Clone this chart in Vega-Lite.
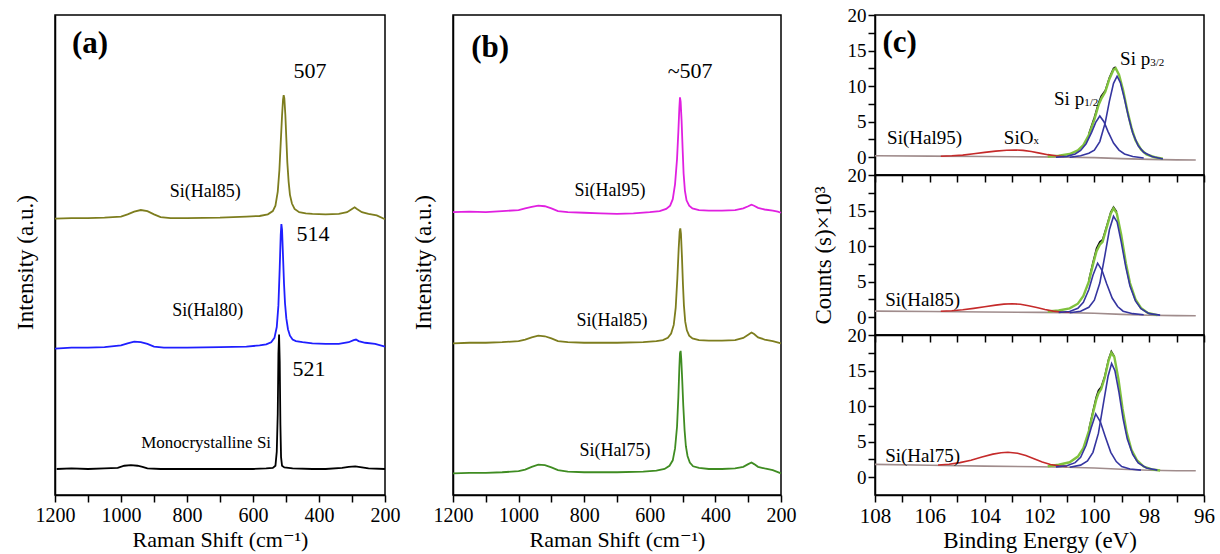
{
"$schema":"https://vega.github.io/schema/vega-lite/v6.json",
"padding":{"left":13,"top":5,"right":2,"bottom":2},
"background":"white",
"config":{
 "font":"Liberation Serif, Times New Roman, DejaVu Serif, serif",
 "view":{"stroke":"#000","strokeWidth":1.5},
 "axis":{"labelFont":"Liberation Serif, Times New Roman, DejaVu Serif, serif","titleFont":"Liberation Serif, Times New Roman, DejaVu Serif, serif","titleFontWeight":"normal","labelColor":"#000","titleColor":"#000","domainColor":"#000","tickColor":"#000","grid":false,"domainWidth":1.5,"tickWidth":1.5,"tickSize":7,"labelFlush":false,"labelOverlap":false},
 "text":{"font":"Liberation Serif, Times New Roman, DejaVu Serif, serif","color":"#000"}
},
"datasets":{
"raman":[
{"p":"a","s":"Mono","x":1195,"y":19},{"p":"a","s":"Mono","x":1150,"y":19.5},{"p":"a","s":"Mono","x":1100,"y":19},{"p":"a","s":"Mono","x":1050,"y":19.5},{"p":"a","s":"Mono","x":1010,"y":20},{"p":"a","s":"Mono","x":990,"y":22},{"p":"a","s":"Mono","x":970,"y":22.5},{"p":"a","s":"Mono","x":950,"y":22},{"p":"a","s":"Mono","x":935,"y":21},{"p":"a","s":"Mono","x":920,"y":19.5},{"p":"a","s":"Mono","x":880,"y":19},{"p":"a","s":"Mono","x":800,"y":19},{"p":"a","s":"Mono","x":700,"y":19},{"p":"a","s":"Mono","x":600,"y":19},{"p":"a","s":"Mono","x":560,"y":19.5},{"p":"a","s":"Mono","x":540,"y":20},{"p":"a","s":"Mono","x":532,"y":22},{"p":"a","s":"Mono","x":528,"y":35},{"p":"a","s":"Mono","x":525,"y":70},{"p":"a","s":"Mono","x":523,"y":125},{"p":"a","s":"Mono","x":521,"y":143},{"p":"a","s":"Mono","x":519,"y":118},{"p":"a","s":"Mono","x":517,"y":60},{"p":"a","s":"Mono","x":515,"y":30},{"p":"a","s":"Mono","x":512,"y":22},{"p":"a","s":"Mono","x":505,"y":20.5},{"p":"a","s":"Mono","x":480,"y":19.5},{"p":"a","s":"Mono","x":420,"y":19},{"p":"a","s":"Mono","x":380,"y":19},{"p":"a","s":"Mono","x":330,"y":20},{"p":"a","s":"Mono","x":310,"y":21},{"p":"a","s":"Mono","x":290,"y":21.5},{"p":"a","s":"Mono","x":270,"y":20.5},{"p":"a","s":"Mono","x":250,"y":19.5},{"p":"a","s":"Mono","x":200,"y":19},
{"p":"a","s":"Hal80","x":1200,"y":130},{"p":"a","s":"Hal80","x":1150,"y":131},{"p":"a","s":"Hal80","x":1100,"y":131},{"p":"a","s":"Hal80","x":1050,"y":131.5},{"p":"a","s":"Hal80","x":1000,"y":133},{"p":"a","s":"Hal80","x":980,"y":135},{"p":"a","s":"Hal80","x":960,"y":136.5},{"p":"a","s":"Hal80","x":940,"y":136},{"p":"a","s":"Hal80","x":920,"y":134.5},{"p":"a","s":"Hal80","x":900,"y":132},{"p":"a","s":"Hal80","x":870,"y":131},{"p":"a","s":"Hal80","x":800,"y":131},{"p":"a","s":"Hal80","x":700,"y":131.5},{"p":"a","s":"Hal80","x":620,"y":132},{"p":"a","s":"Hal80","x":580,"y":133},{"p":"a","s":"Hal80","x":560,"y":134},{"p":"a","s":"Hal80","x":545,"y":136},{"p":"a","s":"Hal80","x":535,"y":140},{"p":"a","s":"Hal80","x":528,"y":150},{"p":"a","s":"Hal80","x":523,"y":170},{"p":"a","s":"Hal80","x":519,"y":205},{"p":"a","s":"Hal80","x":516,"y":235},{"p":"a","s":"Hal80","x":514,"y":245},{"p":"a","s":"Hal80","x":512,"y":240},{"p":"a","s":"Hal80","x":509,"y":215},{"p":"a","s":"Hal80","x":506,"y":190},{"p":"a","s":"Hal80","x":503,"y":172},{"p":"a","s":"Hal80","x":499,"y":158},{"p":"a","s":"Hal80","x":494,"y":148},{"p":"a","s":"Hal80","x":488,"y":142},{"p":"a","s":"Hal80","x":480,"y":138.5},{"p":"a","s":"Hal80","x":470,"y":137},{"p":"a","s":"Hal80","x":450,"y":136},{"p":"a","s":"Hal80","x":420,"y":135},{"p":"a","s":"Hal80","x":380,"y":134.5},{"p":"a","s":"Hal80","x":340,"y":134.5},{"p":"a","s":"Hal80","x":310,"y":136},{"p":"a","s":"Hal80","x":295,"y":138},{"p":"a","s":"Hal80","x":288,"y":138.5},{"p":"a","s":"Hal80","x":280,"y":137},{"p":"a","s":"Hal80","x":260,"y":135.5},{"p":"a","s":"Hal80","x":230,"y":134.5},{"p":"a","s":"Hal80","x":200,"y":132},
{"p":"a","s":"Hal85","x":1200,"y":250},{"p":"a","s":"Hal85","x":1150,"y":250.5},{"p":"a","s":"Hal85","x":1100,"y":250.5},{"p":"a","s":"Hal85","x":1050,"y":251},{"p":"a","s":"Hal85","x":1000,"y":252},{"p":"a","s":"Hal85","x":980,"y":254},{"p":"a","s":"Hal85","x":960,"y":256.5},{"p":"a","s":"Hal85","x":940,"y":258},{"p":"a","s":"Hal85","x":920,"y":257},{"p":"a","s":"Hal85","x":900,"y":254},{"p":"a","s":"Hal85","x":880,"y":251.5},{"p":"a","s":"Hal85","x":850,"y":250.5},{"p":"a","s":"Hal85","x":800,"y":250.5},{"p":"a","s":"Hal85","x":700,"y":251},{"p":"a","s":"Hal85","x":620,"y":252},{"p":"a","s":"Hal85","x":580,"y":252.5},{"p":"a","s":"Hal85","x":555,"y":254},{"p":"a","s":"Hal85","x":540,"y":257},{"p":"a","s":"Hal85","x":532,"y":262},{"p":"a","s":"Hal85","x":525,"y":275},{"p":"a","s":"Hal85","x":520,"y":295},{"p":"a","s":"Hal85","x":516,"y":320},{"p":"a","s":"Hal85","x":512,"y":345},{"p":"a","s":"Hal85","x":509,"y":360},{"p":"a","s":"Hal85","x":507,"y":364},{"p":"a","s":"Hal85","x":505,"y":361},{"p":"a","s":"Hal85","x":502,"y":346},{"p":"a","s":"Hal85","x":499,"y":324},{"p":"a","s":"Hal85","x":496,"y":302},{"p":"a","s":"Hal85","x":492,"y":284},{"p":"a","s":"Hal85","x":488,"y":272},{"p":"a","s":"Hal85","x":482,"y":264},{"p":"a","s":"Hal85","x":474,"y":259},{"p":"a","s":"Hal85","x":460,"y":256},{"p":"a","s":"Hal85","x":440,"y":255},{"p":"a","s":"Hal85","x":420,"y":254.5},{"p":"a","s":"Hal85","x":380,"y":254},{"p":"a","s":"Hal85","x":340,"y":254.5},{"p":"a","s":"Hal85","x":315,"y":256},{"p":"a","s":"Hal85","x":300,"y":259},{"p":"a","s":"Hal85","x":292,"y":260.5},{"p":"a","s":"Hal85","x":285,"y":259},{"p":"a","s":"Hal85","x":270,"y":256},{"p":"a","s":"Hal85","x":250,"y":254.5},{"p":"a","s":"Hal85","x":225,"y":253},{"p":"a","s":"Hal85","x":200,"y":249.5},
{"p":"b","s":"Hal95","x":1200,"y":256},{"p":"b","s":"Hal95","x":1150,"y":256.5},{"p":"b","s":"Hal95","x":1100,"y":256},{"p":"b","s":"Hal95","x":1050,"y":257},{"p":"b","s":"Hal95","x":1000,"y":258},{"p":"b","s":"Hal95","x":980,"y":259.5},{"p":"b","s":"Hal95","x":960,"y":261},{"p":"b","s":"Hal95","x":940,"y":262},{"p":"b","s":"Hal95","x":920,"y":261.5},{"p":"b","s":"Hal95","x":900,"y":259.5},{"p":"b","s":"Hal95","x":880,"y":257},{"p":"b","s":"Hal95","x":850,"y":256},{"p":"b","s":"Hal95","x":800,"y":255.5},{"p":"b","s":"Hal95","x":750,"y":255},{"p":"b","s":"Hal95","x":700,"y":254.5},{"p":"b","s":"Hal95","x":650,"y":255},{"p":"b","s":"Hal95","x":600,"y":256},{"p":"b","s":"Hal95","x":570,"y":257},{"p":"b","s":"Hal95","x":550,"y":259},{"p":"b","s":"Hal95","x":538,"y":262},{"p":"b","s":"Hal95","x":530,"y":268},{"p":"b","s":"Hal95","x":523,"y":282},{"p":"b","s":"Hal95","x":517,"y":305},{"p":"b","s":"Hal95","x":513,"y":330},{"p":"b","s":"Hal95","x":510,"y":352},{"p":"b","s":"Hal95","x":508,"y":362},{"p":"b","s":"Hal95","x":506,"y":358},{"p":"b","s":"Hal95","x":503,"y":340},{"p":"b","s":"Hal95","x":500,"y":315},{"p":"b","s":"Hal95","x":497,"y":292},{"p":"b","s":"Hal95","x":493,"y":276},{"p":"b","s":"Hal95","x":488,"y":267},{"p":"b","s":"Hal95","x":480,"y":262},{"p":"b","s":"Hal95","x":470,"y":259.5},{"p":"b","s":"Hal95","x":450,"y":258},{"p":"b","s":"Hal95","x":420,"y":257.5},{"p":"b","s":"Hal95","x":380,"y":257.5},{"p":"b","s":"Hal95","x":340,"y":258},{"p":"b","s":"Hal95","x":315,"y":259.5},{"p":"b","s":"Hal95","x":300,"y":261.5},{"p":"b","s":"Hal95","x":290,"y":263},{"p":"b","s":"Hal95","x":282,"y":262},{"p":"b","s":"Hal95","x":270,"y":260},{"p":"b","s":"Hal95","x":250,"y":258.5},{"p":"b","s":"Hal95","x":225,"y":257.5},{"p":"b","s":"Hal95","x":210,"y":256.5},{"p":"b","s":"Hal95","x":200,"y":255.5},
{"p":"b","s":"Hal85","x":1200,"y":135},{"p":"b","s":"Hal85","x":1150,"y":135.5},{"p":"b","s":"Hal85","x":1100,"y":135.5},{"p":"b","s":"Hal85","x":1050,"y":136},{"p":"b","s":"Hal85","x":1000,"y":137},{"p":"b","s":"Hal85","x":980,"y":138.5},{"p":"b","s":"Hal85","x":960,"y":140.5},{"p":"b","s":"Hal85","x":940,"y":142},{"p":"b","s":"Hal85","x":920,"y":141.5},{"p":"b","s":"Hal85","x":900,"y":139.5},{"p":"b","s":"Hal85","x":880,"y":137},{"p":"b","s":"Hal85","x":850,"y":136},{"p":"b","s":"Hal85","x":800,"y":135.5},{"p":"b","s":"Hal85","x":700,"y":135.5},{"p":"b","s":"Hal85","x":620,"y":136},{"p":"b","s":"Hal85","x":580,"y":137},{"p":"b","s":"Hal85","x":560,"y":138},{"p":"b","s":"Hal85","x":545,"y":140},{"p":"b","s":"Hal85","x":535,"y":144},{"p":"b","s":"Hal85","x":527,"y":152},{"p":"b","s":"Hal85","x":521,"y":168},{"p":"b","s":"Hal85","x":516,"y":195},{"p":"b","s":"Hal85","x":512,"y":222},{"p":"b","s":"Hal85","x":509,"y":238},{"p":"b","s":"Hal85","x":507,"y":241},{"p":"b","s":"Hal85","x":505,"y":236},{"p":"b","s":"Hal85","x":502,"y":215},{"p":"b","s":"Hal85","x":499,"y":190},{"p":"b","s":"Hal85","x":496,"y":170},{"p":"b","s":"Hal85","x":492,"y":155},{"p":"b","s":"Hal85","x":487,"y":147},{"p":"b","s":"Hal85","x":480,"y":142},{"p":"b","s":"Hal85","x":470,"y":139.5},{"p":"b","s":"Hal85","x":450,"y":138},{"p":"b","s":"Hal85","x":420,"y":137.5},{"p":"b","s":"Hal85","x":380,"y":137.5},{"p":"b","s":"Hal85","x":340,"y":138},{"p":"b","s":"Hal85","x":315,"y":140},{"p":"b","s":"Hal85","x":300,"y":143},{"p":"b","s":"Hal85","x":290,"y":145},{"p":"b","s":"Hal85","x":282,"y":143.5},{"p":"b","s":"Hal85","x":270,"y":140.5},{"p":"b","s":"Hal85","x":250,"y":138.5},{"p":"b","s":"Hal85","x":225,"y":137},{"p":"b","s":"Hal85","x":200,"y":135},
{"p":"b","s":"Hal75","x":1200,"y":15},{"p":"b","s":"Hal75","x":1150,"y":15.5},{"p":"b","s":"Hal75","x":1100,"y":15.5},{"p":"b","s":"Hal75","x":1050,"y":16},{"p":"b","s":"Hal75","x":1000,"y":17},{"p":"b","s":"Hal75","x":980,"y":18.5},{"p":"b","s":"Hal75","x":960,"y":21},{"p":"b","s":"Hal75","x":940,"y":23},{"p":"b","s":"Hal75","x":920,"y":22.5},{"p":"b","s":"Hal75","x":900,"y":20.5},{"p":"b","s":"Hal75","x":880,"y":18},{"p":"b","s":"Hal75","x":850,"y":16.5},{"p":"b","s":"Hal75","x":800,"y":16},{"p":"b","s":"Hal75","x":700,"y":16},{"p":"b","s":"Hal75","x":620,"y":16.5},{"p":"b","s":"Hal75","x":580,"y":17.5},{"p":"b","s":"Hal75","x":555,"y":19},{"p":"b","s":"Hal75","x":540,"y":22},{"p":"b","s":"Hal75","x":530,"y":27},{"p":"b","s":"Hal75","x":523,"y":38},{"p":"b","s":"Hal75","x":517,"y":58},{"p":"b","s":"Hal75","x":513,"y":85},{"p":"b","s":"Hal75","x":510,"y":112},{"p":"b","s":"Hal75","x":508,"y":126},{"p":"b","s":"Hal75","x":506,"y":128},{"p":"b","s":"Hal75","x":504,"y":120},{"p":"b","s":"Hal75","x":501,"y":100},{"p":"b","s":"Hal75","x":498,"y":78},{"p":"b","s":"Hal75","x":494,"y":55},{"p":"b","s":"Hal75","x":490,"y":40},{"p":"b","s":"Hal75","x":485,"y":31},{"p":"b","s":"Hal75","x":478,"y":25},{"p":"b","s":"Hal75","x":468,"y":21.5},{"p":"b","s":"Hal75","x":450,"y":20},{"p":"b","s":"Hal75","x":420,"y":19},{"p":"b","s":"Hal75","x":380,"y":19},{"p":"b","s":"Hal75","x":340,"y":19.5},{"p":"b","s":"Hal75","x":315,"y":21},{"p":"b","s":"Hal75","x":300,"y":23.5},{"p":"b","s":"Hal75","x":290,"y":25},{"p":"b","s":"Hal75","x":282,"y":23.5},{"p":"b","s":"Hal75","x":270,"y":21},{"p":"b","s":"Hal75","x":250,"y":19.5},{"p":"b","s":"Hal75","x":225,"y":18},{"p":"b","s":"Hal75","x":200,"y":15}
],
"xps":[
{"p":"c1","c":"bg","x":108,"y":0.2},{"p":"c1","c":"bg","x":106,"y":0.15},{"p":"c1","c":"bg","x":104,"y":0.1},{"p":"c1","c":"bg","x":102,"y":0.05},{"p":"c1","c":"bg","x":101,"y":0.0},{"p":"c1","c":"bg","x":100,"y":-0.05},{"p":"c1","c":"bg","x":99,"y":-0.2},{"p":"c1","c":"bg","x":98,"y":-0.3},{"p":"c1","c":"bg","x":97,"y":-0.38},{"p":"c1","c":"bg","x":96.3,"y":-0.4},
{"p":"c1","c":"siox","x":105.6,"y":0.14},{"p":"c1","c":"siox","x":105.2,"y":0.2},{"p":"c1","c":"siox","x":104.8,"y":0.3},{"p":"c1","c":"siox","x":104.4,"y":0.48},{"p":"c1","c":"siox","x":104.0,"y":0.68},{"p":"c1","c":"siox","x":103.6,"y":0.86},{"p":"c1","c":"siox","x":103.2,"y":0.98},{"p":"c1","c":"siox","x":102.9,"y":1.02},{"p":"c1","c":"siox","x":102.6,"y":0.96},{"p":"c1","c":"siox","x":102.3,"y":0.8},{"p":"c1","c":"siox","x":102.0,"y":0.58},{"p":"c1","c":"siox","x":101.7,"y":0.36},{"p":"c1","c":"siox","x":101.4,"y":0.2},{"p":"c1","c":"siox","x":101.1,"y":0.1},
{"p":"c1","c":"p12","x":101.4,"y":0.0},{"p":"c1","c":"p12","x":101.0,"y":0.12},{"p":"c1","c":"p12","x":100.7,"y":0.45},{"p":"c1","c":"p12","x":100.5,"y":0.95},{"p":"c1","c":"p12","x":100.3,"y":1.9},{"p":"c1","c":"p12","x":100.1,"y":3.5},{"p":"c1","c":"p12","x":99.95,"y":4.9},{"p":"c1","c":"p12","x":99.8,"y":5.8},{"p":"c1","c":"p12","x":99.65,"y":5.0},{"p":"c1","c":"p12","x":99.5,"y":3.6},{"p":"c1","c":"p12","x":99.3,"y":2.0},{"p":"c1","c":"p12","x":99.1,"y":1.0},{"p":"c1","c":"p12","x":98.9,"y":0.45},{"p":"c1","c":"p12","x":98.6,"y":0.1},{"p":"c1","c":"p12","x":98.2,"y":-0.1},
{"p":"c1","c":"p32","x":100.9,"y":0.0},{"p":"c1","c":"p32","x":100.5,"y":0.2},{"p":"c1","c":"p32","x":100.2,"y":0.55},{"p":"c1","c":"p32","x":100.0,"y":1.0},{"p":"c1","c":"p32","x":99.8,"y":2.2},{"p":"c1","c":"p32","x":99.6,"y":4.9},{"p":"c1","c":"p32","x":99.45,"y":7.9},{"p":"c1","c":"p32","x":99.3,"y":10.4},{"p":"c1","c":"p32","x":99.17,"y":11.4},{"p":"c1","c":"p32","x":99.05,"y":10.5},{"p":"c1","c":"p32","x":98.9,"y":8.2},{"p":"c1","c":"p32","x":98.75,"y":5.6},{"p":"c1","c":"p32","x":98.6,"y":3.4},{"p":"c1","c":"p32","x":98.4,"y":1.6},{"p":"c1","c":"p32","x":98.2,"y":0.7},{"p":"c1","c":"p32","x":97.9,"y":0.1},{"p":"c1","c":"p32","x":97.5,"y":-0.25},
{"p":"c1","c":"env","x":101.7,"y":0.1},{"p":"c1","c":"env","x":101.3,"y":0.2},{"p":"c1","c":"env","x":100.9,"y":0.45},{"p":"c1","c":"env","x":100.6,"y":0.95},{"p":"c1","c":"env","x":100.4,"y":1.7},{"p":"c1","c":"env","x":100.2,"y":3.1},{"p":"c1","c":"env","x":100.0,"y":5.3},{"p":"c1","c":"env","x":99.85,"y":7.3},{"p":"c1","c":"env","x":99.75,"y":8.2},{"p":"c1","c":"env","x":99.6,"y":9.2},{"p":"c1","c":"env","x":99.45,"y":11.0},{"p":"c1","c":"env","x":99.3,"y":12.3},{"p":"c1","c":"env","x":99.22,"y":12.5},{"p":"c1","c":"env","x":99.1,"y":11.6},{"p":"c1","c":"env","x":98.95,"y":9.4},{"p":"c1","c":"env","x":98.8,"y":6.6},{"p":"c1","c":"env","x":98.65,"y":4.2},{"p":"c1","c":"env","x":98.5,"y":2.4},{"p":"c1","c":"env","x":98.3,"y":1.1},{"p":"c1","c":"env","x":98.1,"y":0.4},{"p":"c1","c":"env","x":97.8,"y":0.0},{"p":"c1","c":"env","x":97.5,"y":-0.2},
{"p":"c1","c":"data","x":100.2,"y":3.3},{"p":"c1","c":"data","x":100.0,"y":5.6},{"p":"c1","c":"data","x":99.85,"y":7.6},{"p":"c1","c":"data","x":99.75,"y":8.6},{"p":"c1","c":"data","x":99.6,"y":9.4},{"p":"c1","c":"data","x":99.45,"y":11.2},{"p":"c1","c":"data","x":99.3,"y":12.5},{"p":"c1","c":"data","x":99.22,"y":12.7},
{"p":"c2","c":"bg","x":108,"y":0.86},{"p":"c2","c":"bg","x":106,"y":0.8},{"p":"c2","c":"bg","x":104,"y":0.74},{"p":"c2","c":"bg","x":102,"y":0.68},{"p":"c2","c":"bg","x":101,"y":0.64},{"p":"c2","c":"bg","x":100,"y":0.55},{"p":"c2","c":"bg","x":99,"y":0.4},{"p":"c2","c":"bg","x":98,"y":0.28},{"p":"c2","c":"bg","x":97,"y":0.22},{"p":"c2","c":"bg","x":96.3,"y":0.2},
{"p":"c2","c":"siox","x":105.6,"y":0.84},{"p":"c2","c":"siox","x":105.2,"y":0.92},{"p":"c2","c":"siox","x":104.8,"y":1.05},{"p":"c2","c":"siox","x":104.4,"y":1.25},{"p":"c2","c":"siox","x":104.0,"y":1.48},{"p":"c2","c":"siox","x":103.6,"y":1.7},{"p":"c2","c":"siox","x":103.3,"y":1.84},{"p":"c2","c":"siox","x":103.0,"y":1.9},{"p":"c2","c":"siox","x":102.7,"y":1.82},{"p":"c2","c":"siox","x":102.4,"y":1.62},{"p":"c2","c":"siox","x":102.1,"y":1.36},{"p":"c2","c":"siox","x":101.8,"y":1.08},{"p":"c2","c":"siox","x":101.5,"y":0.86},{"p":"c2","c":"siox","x":101.2,"y":0.74},{"p":"c2","c":"siox","x":100.9,"y":0.7},
{"p":"c2","c":"p12","x":101.3,"y":0.68},{"p":"c2","c":"p12","x":100.9,"y":0.8},{"p":"c2","c":"p12","x":100.6,"y":1.25},{"p":"c2","c":"p12","x":100.4,"y":2.1},{"p":"c2","c":"p12","x":100.2,"y":3.9},{"p":"c2","c":"p12","x":100.05,"y":5.9},{"p":"c2","c":"p12","x":99.88,"y":7.6},{"p":"c2","c":"p12","x":99.72,"y":6.6},{"p":"c2","c":"p12","x":99.55,"y":4.7},{"p":"c2","c":"p12","x":99.35,"y":2.7},{"p":"c2","c":"p12","x":99.15,"y":1.5},{"p":"c2","c":"p12","x":98.95,"y":0.85},{"p":"c2","c":"p12","x":98.6,"y":0.5},{"p":"c2","c":"p12","x":98.2,"y":0.35},
{"p":"c2","c":"p32","x":100.9,"y":0.62},{"p":"c2","c":"p32","x":100.5,"y":0.85},{"p":"c2","c":"p32","x":100.2,"y":1.4},{"p":"c2","c":"p32","x":100.0,"y":2.4},{"p":"c2","c":"p32","x":99.8,"y":4.8},{"p":"c2","c":"p32","x":99.6,"y":9.0},{"p":"c2","c":"p32","x":99.45,"y":12.3},{"p":"c2","c":"p32","x":99.3,"y":14.2},{"p":"c2","c":"p32","x":99.17,"y":13.4},{"p":"c2","c":"p32","x":99.02,"y":10.6},{"p":"c2","c":"p32","x":98.85,"y":7.0},{"p":"c2","c":"p32","x":98.7,"y":4.4},{"p":"c2","c":"p32","x":98.5,"y":2.3},{"p":"c2","c":"p32","x":98.3,"y":1.2},{"p":"c2","c":"p32","x":98.0,"y":0.5},{"p":"c2","c":"p32","x":97.6,"y":0.3},
{"p":"c2","c":"env","x":101.7,"y":0.8},{"p":"c2","c":"env","x":101.3,"y":0.95},{"p":"c2","c":"env","x":100.9,"y":1.25},{"p":"c2","c":"env","x":100.6,"y":1.9},{"p":"c2","c":"env","x":100.4,"y":3.0},{"p":"c2","c":"env","x":100.2,"y":5.0},{"p":"c2","c":"env","x":100.05,"y":7.4},{"p":"c2","c":"env","x":99.92,"y":9.3},{"p":"c2","c":"env","x":99.8,"y":10.2},{"p":"c2","c":"env","x":99.7,"y":10.6},{"p":"c2","c":"env","x":99.55,"y":12.6},{"p":"c2","c":"env","x":99.4,"y":14.6},{"p":"c2","c":"env","x":99.3,"y":15.3},{"p":"c2","c":"env","x":99.18,"y":14.6},{"p":"c2","c":"env","x":99.02,"y":11.6},{"p":"c2","c":"env","x":98.85,"y":7.6},{"p":"c2","c":"env","x":98.7,"y":4.8},{"p":"c2","c":"env","x":98.5,"y":2.5},{"p":"c2","c":"env","x":98.3,"y":1.3},{"p":"c2","c":"env","x":98.05,"y":0.6},{"p":"c2","c":"env","x":97.7,"y":0.3},
{"p":"c2","c":"data","x":100.2,"y":5.2},{"p":"c2","c":"data","x":100.05,"y":7.7},{"p":"c2","c":"data","x":99.92,"y":9.7},{"p":"c2","c":"data","x":99.8,"y":10.6},{"p":"c2","c":"data","x":99.7,"y":10.9},{"p":"c2","c":"data","x":99.55,"y":12.8},{"p":"c2","c":"data","x":99.4,"y":14.8},{"p":"c2","c":"data","x":99.3,"y":15.5},{"p":"c2","c":"data","x":99.18,"y":14.8},
{"p":"c3","c":"bg","x":108,"y":1.8},{"p":"c3","c":"bg","x":106,"y":1.68},{"p":"c3","c":"bg","x":104,"y":1.56},{"p":"c3","c":"bg","x":102,"y":1.47},{"p":"c3","c":"bg","x":101,"y":1.4},{"p":"c3","c":"bg","x":100,"y":1.3},{"p":"c3","c":"bg","x":99,"y":1.12},{"p":"c3","c":"bg","x":98,"y":0.98},{"p":"c3","c":"bg","x":97,"y":0.92},{"p":"c3","c":"bg","x":96.3,"y":0.9},
{"p":"c3","c":"siox","x":105.7,"y":1.72},{"p":"c3","c":"siox","x":105.3,"y":1.82},{"p":"c3","c":"siox","x":104.9,"y":2.05},{"p":"c3","c":"siox","x":104.5,"y":2.4},{"p":"c3","c":"siox","x":104.1,"y":2.85},{"p":"c3","c":"siox","x":103.7,"y":3.25},{"p":"c3","c":"siox","x":103.4,"y":3.45},{"p":"c3","c":"siox","x":103.15,"y":3.52},{"p":"c3","c":"siox","x":102.8,"y":3.38},{"p":"c3","c":"siox","x":102.5,"y":3.05},{"p":"c3","c":"siox","x":102.2,"y":2.6},{"p":"c3","c":"siox","x":101.9,"y":2.15},{"p":"c3","c":"siox","x":101.6,"y":1.8},{"p":"c3","c":"siox","x":101.3,"y":1.6},{"p":"c3","c":"siox","x":101.0,"y":1.52},
{"p":"c3","c":"p12","x":101.4,"y":1.45},{"p":"c3","c":"p12","x":101.0,"y":1.62},{"p":"c3","c":"p12","x":100.7,"y":2.05},{"p":"c3","c":"p12","x":100.5,"y":2.8},{"p":"c3","c":"p12","x":100.3,"y":4.5},{"p":"c3","c":"p12","x":100.12,"y":6.9},{"p":"c3","c":"p12","x":99.95,"y":8.9},{"p":"c3","c":"p12","x":99.78,"y":7.8},{"p":"c3","c":"p12","x":99.6,"y":5.7},{"p":"c3","c":"p12","x":99.4,"y":3.5},{"p":"c3","c":"p12","x":99.2,"y":2.2},{"p":"c3","c":"p12","x":99.0,"y":1.5},{"p":"c3","c":"p12","x":98.7,"y":1.15},{"p":"c3","c":"p12","x":98.3,"y":1.0},
{"p":"c3","c":"p32","x":100.9,"y":1.4},{"p":"c3","c":"p32","x":100.5,"y":1.7},{"p":"c3","c":"p32","x":100.25,"y":2.3},{"p":"c3","c":"p32","x":100.05,"y":3.5},{"p":"c3","c":"p32","x":99.85,"y":6.2},{"p":"c3","c":"p32","x":99.65,"y":10.8},{"p":"c3","c":"p32","x":99.5,"y":14.2},{"p":"c3","c":"p32","x":99.37,"y":16.0},{"p":"c3","c":"p32","x":99.25,"y":15.0},{"p":"c3","c":"p32","x":99.1,"y":11.9},{"p":"c3","c":"p32","x":98.95,"y":8.2},{"p":"c3","c":"p32","x":98.8,"y":5.4},{"p":"c3","c":"p32","x":98.6,"y":3.2},{"p":"c3","c":"p32","x":98.4,"y":2.0},{"p":"c3","c":"p32","x":98.1,"y":1.3},{"p":"c3","c":"p32","x":97.7,"y":1.0},
{"p":"c3","c":"env","x":101.7,"y":1.55},{"p":"c3","c":"env","x":101.3,"y":1.75},{"p":"c3","c":"env","x":100.9,"y":2.1},{"p":"c3","c":"env","x":100.6,"y":2.9},{"p":"c3","c":"env","x":100.4,"y":4.1},{"p":"c3","c":"env","x":100.2,"y":6.5},{"p":"c3","c":"env","x":100.05,"y":9.0},{"p":"c3","c":"env","x":99.93,"y":10.9},{"p":"c3","c":"env","x":99.85,"y":11.8},{"p":"c3","c":"env","x":99.75,"y":12.4},{"p":"c3","c":"env","x":99.62,"y":14.0},{"p":"c3","c":"env","x":99.48,"y":16.4},{"p":"c3","c":"env","x":99.38,"y":17.5},{"p":"c3","c":"env","x":99.27,"y":16.9},{"p":"c3","c":"env","x":99.12,"y":13.8},{"p":"c3","c":"env","x":98.97,"y":9.6},{"p":"c3","c":"env","x":98.82,"y":6.3},{"p":"c3","c":"env","x":98.65,"y":3.9},{"p":"c3","c":"env","x":98.45,"y":2.4},{"p":"c3","c":"env","x":98.2,"y":1.5},{"p":"c3","c":"env","x":97.9,"y":1.1},{"p":"c3","c":"env","x":97.6,"y":0.95},
{"p":"c3","c":"data","x":100.2,"y":6.7},{"p":"c3","c":"data","x":100.05,"y":9.3},{"p":"c3","c":"data","x":99.93,"y":11.3},{"p":"c3","c":"data","x":99.85,"y":12.2},{"p":"c3","c":"data","x":99.75,"y":12.7},{"p":"c3","c":"data","x":99.62,"y":14.2},{"p":"c3","c":"data","x":99.48,"y":16.6},{"p":"c3","c":"data","x":99.38,"y":17.7},{"p":"c3","c":"data","x":99.27,"y":17.0}
],
"labels":[
{"p":"a","k":"panel","x":1094,"y":411,"t":"(a)"},
{"p":"a","k":"peak","x":427,"y":386,"t":"507"},
{"p":"a","k":"peak","x":418,"y":236,"t":"514"},
{"p":"a","k":"peak","x":430,"y":111,"t":"521"},
{"p":"a","k":"name","x":745,"y":275,"t":"Si(Hal85)"},
{"p":"a","k":"name","x":737,"y":165,"t":"Si(Hal80)"},
{"p":"a","k":"mono","x":742,"y":43,"t":"Monocrystalline Si"},
{"p":"b","k":"panel","x":1087,"y":408,"t":"(b)"},
{"p":"b","k":"peak","x":477,"y":386,"t":"~507"},
{"p":"b","k":"name","x":721,"y":276,"t":"Si(Hal95)"},
{"p":"b","k":"name","x":715,"y":156,"t":"Si(Hal85)"},
{"p":"b","k":"name","x":706,"y":36,"t":"Si(Hal75)"},
{"p":"c1","k":"panel","x":107.1,"y":16.1,"t":"(c)"},
{"p":"c1","k":"main","x":107.56,"y":2.7,"t":"Si(Hal95)"},
{"p":"c1","k":"main","x":103.3,"y":2.7,"t":"SiO"},
{"p":"c1","k":"sub","x":102.22,"y":2.3,"t":"x"},
{"p":"c1","k":"main","x":101.47,"y":8.2,"t":"Si p"},
{"p":"c1","k":"sub","x":100.37,"y":7.6,"t":"1/2"},
{"p":"c1","k":"main","x":99.06,"y":13.8,"t":"Si p"},
{"p":"c1","k":"sub","x":97.96,"y":13.2,"t":"3/2"},
{"p":"c2","k":"main","x":107.63,"y":2.4,"t":"Si(Hal85)"},
{"p":"c3","k":"main","x":107.63,"y":3.0,"t":"Si(Hal75)"}
]
},
"resolve":{"scale":{"color":"independent"}},
"spacing":14,
"hconcat":[
{
"bounds":"flush",
"spacing":68,
"resolve":{"scale":{"color":"independent"}},
"hconcat":[
{
"width":330,"height":480,
"encoding":{
 "x":{"field":"x","type":"quantitative","scale":{"domain":[200,1200],"reverse":true,"nice":false,"zero":false},"axis":{"values":[1200,1100,1000,900,800,700,600,500,400,300,200],"format":"d","labelExpr":"datum.value % 200 === 0 ? datum.label : ''","labelFontSize":20,"labelPadding":3,"title":"Raman Shift (cm⁻¹)","titleFontSize":22,"titlePadding":4}},
 "y":{"field":"y","type":"quantitative","scale":{"domain":[-5,438],"nice":false,"zero":false},"axis":{"labels":false,"ticks":false,"title":"Intensity (a.u.)","titleFontSize":23,"titlePadding":18,"titleY":247}}
},
"layer":[
 {"data":{"name":"raman"},"transform":[{"filter":"datum.p === 'a'"}],"mark":{"type":"line","strokeWidth":1.8},"encoding":{"color":{"field":"s","type":"nominal","scale":{"domain":["Mono","Hal80","Hal85","Hal95","Hal75"],"range":["#000000","#1f1fff","#7d7d1e","#e020e0","#3f8c22"]},"legend":null}}},
 {"data":{"name":"labels"},"transform":[{"filter":"datum.p === 'a' && datum.k === 'name'"}],"mark":{"type":"text","fontSize":18,"align":"center","baseline":"middle"},"encoding":{"text":{"field":"t"}}},
 {"data":{"name":"labels"},"transform":[{"filter":"datum.p === 'a' && datum.k === 'mono'"}],"mark":{"type":"text","fontSize":17,"align":"center","baseline":"middle"},"encoding":{"text":{"field":"t"}}},
 {"data":{"name":"labels"},"transform":[{"filter":"datum.p === 'a' && datum.k === 'peak'"}],"mark":{"type":"text","fontSize":22,"align":"center","baseline":"middle"},"encoding":{"text":{"field":"t"}}},
 {"data":{"name":"labels"},"transform":[{"filter":"datum.p === 'a' && datum.k === 'panel'"}],"mark":{"type":"text","fontSize":31,"fontWeight":"bold","align":"center","baseline":"middle"},"encoding":{"text":{"field":"t"}}}
]
},
{
"width":328,"height":480,
"encoding":{
 "x":{"field":"x","type":"quantitative","scale":{"domain":[200,1200],"reverse":true,"nice":false,"zero":false},"axis":{"values":[1200,1100,1000,900,800,700,600,500,400,300,200],"format":"d","labelExpr":"datum.value % 200 === 0 ? datum.label : ''","labelFontSize":20,"labelPadding":3,"title":"Raman Shift (cm⁻¹)","titleFontSize":22,"titlePadding":4}},
 "y":{"field":"y","type":"quantitative","scale":{"domain":[-5,438],"nice":false,"zero":false},"axis":{"labels":false,"ticks":false,"title":"Intensity (a.u.)","titleFontSize":23,"titlePadding":18,"titleY":247}}
},
"layer":[
 {"data":{"name":"raman"},"transform":[{"filter":"datum.p === 'b'"}],"mark":{"type":"line","strokeWidth":1.8},"encoding":{"color":{"field":"s","type":"nominal","scale":{"domain":["Mono","Hal80","Hal85","Hal95","Hal75"],"range":["#000000","#1f1fff","#7d7d1e","#e020e0","#3f8c22"]},"legend":null}}},
 {"data":{"name":"labels"},"transform":[{"filter":"datum.p === 'b' && datum.k === 'name'"}],"mark":{"type":"text","fontSize":18,"align":"center","baseline":"middle"},"encoding":{"text":{"field":"t"}}},
 {"data":{"name":"labels"},"transform":[{"filter":"datum.p === 'b' && datum.k === 'peak'"}],"mark":{"type":"text","fontSize":22,"align":"center","baseline":"middle"},"encoding":{"text":{"field":"t"}}},
 {"data":{"name":"labels"},"transform":[{"filter":"datum.p === 'b' && datum.k === 'panel'"}],"mark":{"type":"text","fontSize":31,"fontWeight":"bold","align":"center","baseline":"middle"},"encoding":{"text":{"field":"t"}}}
]
}
]
},
{
"bounds":"flush",
"spacing":0,
"resolve":{"scale":{"color":"independent"}},
"vconcat":[
{
"width":329,"height":160,
"encoding":{
 "x":{"field":"x","type":"quantitative","scale":{"domain":[96,108],"reverse":true,"nice":false,"zero":false},"axis":{"values":[96,97,98,99,100,101,102,103,104,105,106,107,108],"labels":false,"title":null}},
 "y":{"field":"y","type":"quantitative","scale":{"domain":[-2.5,20],"nice":false,"zero":false},"axis":{"values":[0,2.5,5,7.5,10,12.5,15,17.5,20],"labelExpr":"datum.value % 5 === 0 ? datum.label : ''","labelFontSize":19,"labelPadding":2,"title":null}}
},
"layer":[
 {"data":{"name":"xps"},"transform":[{"filter":"datum.p === 'c1' && (datum.c === 'bg' || datum.c === 'data')"}],"mark":{"type":"line","strokeWidth":1.6},"encoding":{"color":{"field":"c","type":"nominal","scale":{"domain":["bg","data","env","p12","p32","siox"],"range":["#a08c8c","#111111","#80c23e","#3535a0","#3535a0","#c52a2a"]},"legend":null}}},
 {"data":{"name":"xps"},"transform":[{"filter":"datum.p === 'c1' && datum.c === 'env'"}],"mark":{"type":"line","strokeWidth":2.4,"color":"#80c23e"},"encoding":{}},
 {"data":{"name":"xps"},"transform":[{"filter":"datum.p === 'c1' && (datum.c === 'p12' || datum.c === 'p32' || datum.c === 'siox')"}],"mark":{"type":"line","strokeWidth":1.6},"encoding":{"color":{"field":"c","type":"nominal","scale":{"domain":["bg","data","env","p12","p32","siox"],"range":["#a08c8c","#111111","#80c23e","#3535a0","#3535a0","#c52a2a"]},"legend":null}}},
 {"data":{"name":"labels"},"transform":[{"filter":"datum.p === 'c1' && datum.k === 'main'"}],"mark":{"type":"text","fontSize":19,"align":"left","baseline":"middle"},"encoding":{"text":{"field":"t"}}},
 {"data":{"name":"labels"},"transform":[{"filter":"datum.p === 'c1' && datum.k === 'sub'"}],"mark":{"type":"text","fontSize":11,"align":"left","baseline":"middle"},"encoding":{"text":{"field":"t"}}},
 {"data":{"name":"labels"},"transform":[{"filter":"datum.p === 'c1' && datum.k === 'panel'"}],"mark":{"type":"text","fontSize":31,"fontWeight":"bold","align":"center","baseline":"middle"},"encoding":{"text":{"field":"t"}}}
]
},
{
"width":329,"height":160,
"encoding":{
 "x":{"field":"x","type":"quantitative","scale":{"domain":[96,108],"reverse":true,"nice":false,"zero":false},"axis":{"values":[96,97,98,99,100,101,102,103,104,105,106,107,108],"labels":false,"title":null}},
 "y":{"field":"y","type":"quantitative","scale":{"domain":[-2.5,20],"nice":false,"zero":false},"axis":{"values":[0,2.5,5,7.5,10,12.5,15,17.5,20],"labelExpr":"datum.value % 5 === 0 ? datum.label : ''","labelFontSize":19,"labelPadding":2,"title":"Counts (s)×10³","titleFontSize":23,"titleX":-40,"titleY":80}}
},
"layer":[
 {"data":{"name":"xps"},"transform":[{"filter":"datum.p === 'c2' && (datum.c === 'bg' || datum.c === 'data')"}],"mark":{"type":"line","strokeWidth":1.6},"encoding":{"color":{"field":"c","type":"nominal","scale":{"domain":["bg","data","env","p12","p32","siox"],"range":["#a08c8c","#111111","#80c23e","#3535a0","#3535a0","#c52a2a"]},"legend":null}}},
 {"data":{"name":"xps"},"transform":[{"filter":"datum.p === 'c2' && datum.c === 'env'"}],"mark":{"type":"line","strokeWidth":2.4,"color":"#80c23e"},"encoding":{}},
 {"data":{"name":"xps"},"transform":[{"filter":"datum.p === 'c2' && (datum.c === 'p12' || datum.c === 'p32' || datum.c === 'siox')"}],"mark":{"type":"line","strokeWidth":1.6},"encoding":{"color":{"field":"c","type":"nominal","scale":{"domain":["bg","data","env","p12","p32","siox"],"range":["#a08c8c","#111111","#80c23e","#3535a0","#3535a0","#c52a2a"]},"legend":null}}},
 {"data":{"name":"labels"},"transform":[{"filter":"datum.p === 'c2' && datum.k === 'main'"}],"mark":{"type":"text","fontSize":19,"align":"left","baseline":"middle"},"encoding":{"text":{"field":"t"}}}
]
},
{
"width":329,"height":160,
"encoding":{
 "x":{"field":"x","type":"quantitative","scale":{"domain":[96,108],"reverse":true,"nice":false,"zero":false},"axis":{"values":[96,97,98,99,100,101,102,103,104,105,106,107,108],"labelExpr":"datum.value % 2 === 0 ? datum.label : ''","labelFontSize":21,"labelPadding":3,"title":"Binding Energy (eV)","titleFontSize":23,"titlePadding":3}},
 "y":{"field":"y","type":"quantitative","scale":{"domain":[-2.5,20],"nice":false,"zero":false},"axis":{"values":[0,2.5,5,7.5,10,12.5,15,17.5,20],"labelExpr":"datum.value % 5 === 0 ? datum.label : ''","labelFontSize":19,"labelPadding":2,"title":null}}
},
"layer":[
 {"data":{"name":"xps"},"transform":[{"filter":"datum.p === 'c3' && (datum.c === 'bg' || datum.c === 'data')"}],"mark":{"type":"line","strokeWidth":1.6},"encoding":{"color":{"field":"c","type":"nominal","scale":{"domain":["bg","data","env","p12","p32","siox"],"range":["#a08c8c","#111111","#80c23e","#3535a0","#3535a0","#c52a2a"]},"legend":null}}},
 {"data":{"name":"xps"},"transform":[{"filter":"datum.p === 'c3' && datum.c === 'env'"}],"mark":{"type":"line","strokeWidth":2.4,"color":"#80c23e"},"encoding":{}},
 {"data":{"name":"xps"},"transform":[{"filter":"datum.p === 'c3' && (datum.c === 'p12' || datum.c === 'p32' || datum.c === 'siox')"}],"mark":{"type":"line","strokeWidth":1.6},"encoding":{"color":{"field":"c","type":"nominal","scale":{"domain":["bg","data","env","p12","p32","siox"],"range":["#a08c8c","#111111","#80c23e","#3535a0","#3535a0","#c52a2a"]},"legend":null}}},
 {"data":{"name":"labels"},"transform":[{"filter":"datum.p === 'c3' && datum.k === 'main'"}],"mark":{"type":"text","fontSize":19,"align":"left","baseline":"middle"},"encoding":{"text":{"field":"t"}}}
]
}
]
}
]
}
